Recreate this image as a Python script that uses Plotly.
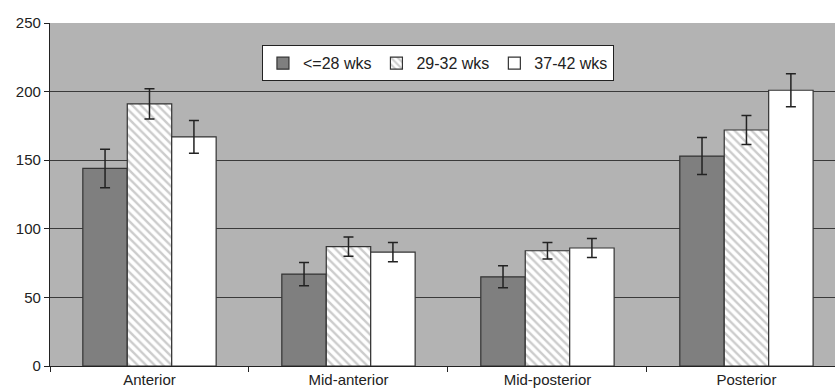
import plotly.graph_objects as go

categories = ["Anterior", "Mid-anterior", "Mid-posterior", "Posterior"]
series_names = ["<=28 wks", "29-32 wks", "37-42 wks"]
v_le28 = [144, 67, 65, 153]
e_le28 = [14, 8.5, 8, 13.5]
v_29_32 = [191, 87, 84, 172]
e_29_32 = [11, 7, 6, 10.5]
v_37_42 = [167, 83, 86, 201]
e_37_42 = [12, 7, 7, 12]
y_ticks = [0, 50, 100, 150, 200, 250]

values = [v_le28, v_29_32, v_37_42]
errors = [e_le28, e_29_32, e_37_42]
fills = ["#7f7f7f", "#ffffff", "#ffffff"]
patterns = [dict(shape=""), dict(shape="\\", fgcolor="#999999", bgcolor="#ffffff", size=6, solidity=0.4), dict(shape="")]

fig = go.Figure()
for name, v, e, c, p in zip(series_names, values, errors, fills, patterns):
    fig.add_trace(go.Bar(
        name=name, x=categories, y=v,
        marker=dict(color=c, line=dict(color="#333333", width=1.2), pattern=p),
        error_y=dict(type="data", array=e, visible=True, color="#222222", thickness=1.5, width=5),
    ))

fig.update_layout(
    width=835, height=392,
    margin=dict(l=50, r=0, t=23, b=26),
    paper_bgcolor="white", plot_bgcolor="#b3b3b3",
    barmode="group", bargap=0.33, bargroupgap=0,
    font=dict(family="Liberation Sans, Arial, sans-serif", color="#222222"),
    showlegend=True,
    legend=dict(orientation="h", x=0.27, y=0.935, xanchor="left", yanchor="top",
                bgcolor="white", bordercolor="#222222", borderwidth=1,
                font=dict(size=16, color="#222222"), itemwidth=30,
                traceorder="normal"),
    xaxis=dict(range=[-0.5, 3.445], tickson="boundaries", ticks="outside", ticklen=5,
               tickcolor="#222222", showline=True, linecolor="#222222", linewidth=1,
               showgrid=False, tickfont=dict(size=15, color="#222222")),
    yaxis=dict(range=[0, 250], tickvals=y_ticks, ticks="outside", ticklen=5,
               tickcolor="#222222", showline=True, linecolor="#222222", linewidth=1.2,
               showgrid=True, gridcolor="#3a3a3a", gridwidth=1, zeroline=False,
               tickfont=dict(size=15, color="#222222")),
)
fig.write_html("out.html", config={"displayModeBar": False})

with open("out.html", "r", encoding="utf-8") as f:
    html = f.read()
html = html.replace("<body>", '<body style="margin:0;padding:0;overflow:hidden">', 1)
with open("out.html", "w", encoding="utf-8") as f:
    f.write(html)
